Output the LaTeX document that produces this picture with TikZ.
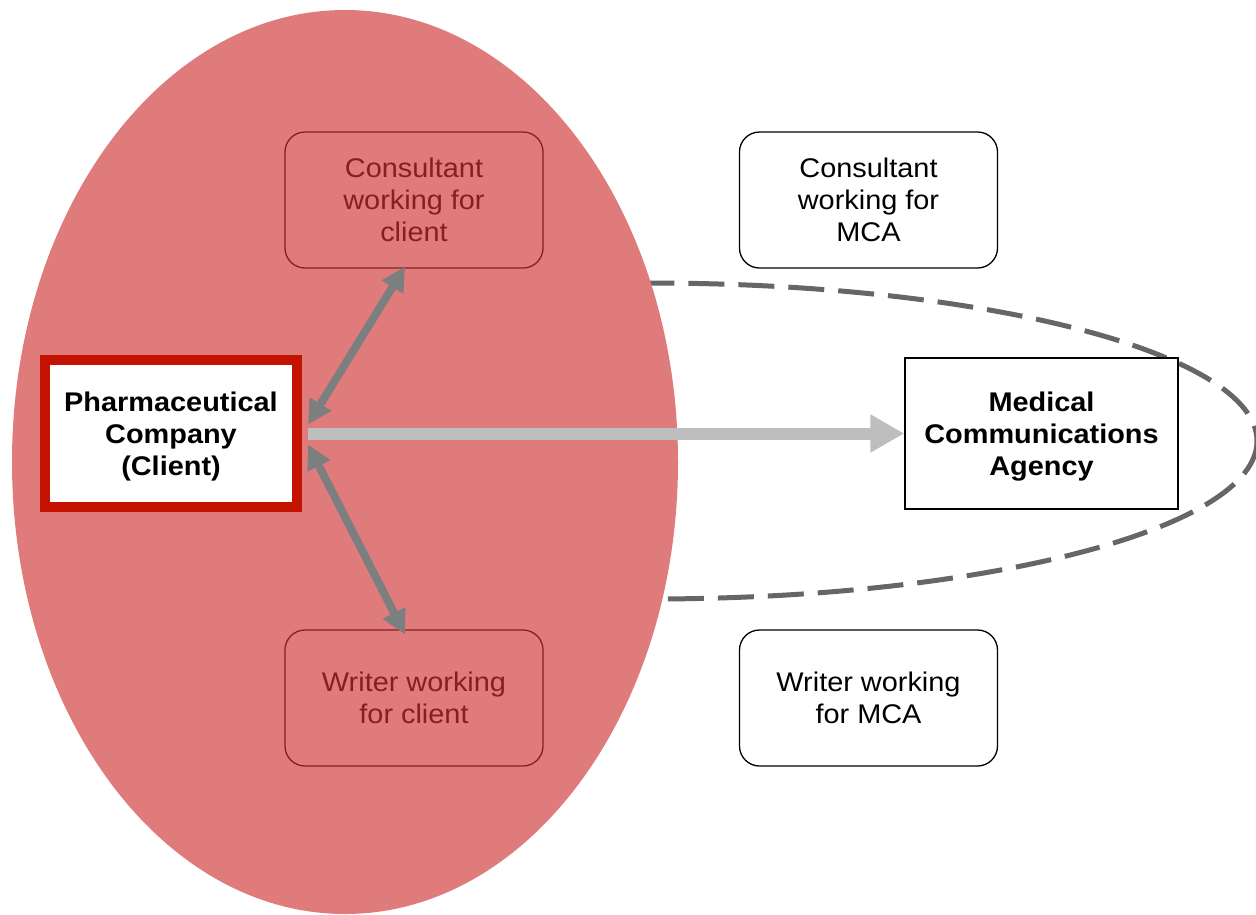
\documentclass[tikz,border=0pt]{standalone}
\usepackage{fontspec}
\setmainfont{Liberation Sans}[FakeStretch=1.07]
\usetikzlibrary{arrows.meta,calc}
\definecolor{clientred}{HTML}{E07B7B}
\definecolor{boxred}{HTML}{8A1E1E}
\definecolor{frame}{HTML}{C41200}
\definecolor{darkarrow}{HTML}{7B7F80}
\definecolor{lightarrow}{HTML}{BEBEBE}
\definecolor{dashgray}{HTML}{666666}
\tikzset{
  txt/.style={font=\fontsize{27}{32}\selectfont, align=center},
  rolebox/.style={txt, draw, rounded corners=20pt, line width=1.3pt,
    minimum width=258pt, minimum height=136pt, inner sep=0pt},
  clientrole/.style={rolebox, draw=boxred, text=boxred},
  agencyrole/.style={rolebox, draw=black, fill=white, text=black},
  keybox/.style={txt, font=\fontsize{27}{32}\selectfont\bfseries, fill=white,
    inner sep=0pt},
  link/.style={draw=darkarrow, line width=8pt,
    {Triangle[length=24pt,width=24pt]}-{Triangle[length=24pt,width=24pt]}},
  brief/.style={draw=lightarrow, line width=12pt,
    -{Triangle[length=34pt,width=36pt]}}
}
\begin{document}
\begin{tikzpicture}[x=1pt,y=-1pt]
\useasboundingbox (0,0) rectangle (1256,914);
% agency sphere (dashed), partly hidden by the client sphere
\draw[dashgray, line width=5pt, dash pattern=on 36pt off 14pt]
  (650,441) ellipse [x radius=607, y radius=158];
% client sphere
\fill[clientred] (345,462) ellipse [x radius=333, y radius=452];

\node[clientrole] (cc) at (414,200) {Consultant\\working for\\client};
\node[clientrole] (wc) at (414,698) {Writer working\\for client};
\node[agencyrole] (cm) at (868.5,200) {Consultant\\working for\\MCA};
\node[agencyrole] (wm) at (868.5,698) {Writer working\\for MCA};

\node[keybox, draw=frame, line width=10pt,
  minimum width=252pt, minimum height=147pt]
  (pharma) at (171,433.5) {\rule{0pt}{26pt}Pharmaceutical\\Company\\(Client)};
\node[keybox, draw=black, line width=1.5pt,
  minimum width=273pt, minimum height=151pt]
  (mca) at (1041.5,433.5) {\rule{0pt}{26pt}Medical\\Communications\\Agency};

\path[brief] ($(pharma.east)+(6,0)$) -- (mca.west);
\path[link] ($(pharma.east)+(6,-9)$) -- ($(cc.south)+(-9,-2)$);
\path[link] ($(pharma.east)+(6,11)$) -- ($(wc.north)+(-9,5)$);
\end{tikzpicture}
\end{document}
